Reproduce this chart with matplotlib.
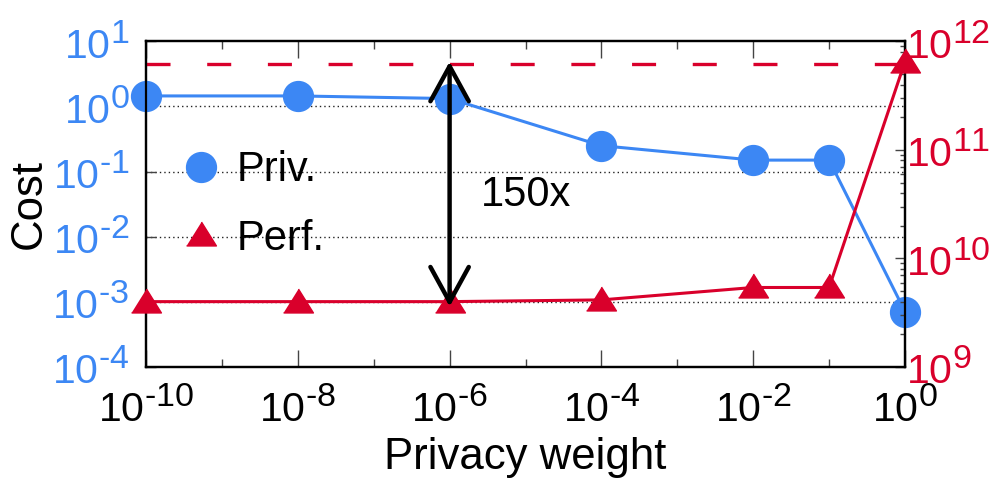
import matplotlib
matplotlib.use("Agg")
import matplotlib.pyplot as plt
import matplotlib._mathtext as _mt
from matplotlib.lines import Line2D
from matplotlib.ticker import FixedLocator, FuncFormatter, LogLocator, NullFormatter
import numpy as np

plt.rcParams['font.family'] = ['Liberation Sans', 'DejaVu Sans']
plt.rcParams['mathtext.fontset'] = 'custom'
plt.rcParams['mathtext.rm'] = 'Liberation Sans'
plt.rcParams['mathtext.it'] = 'Liberation Sans:italic'
plt.rcParams['mathtext.bf'] = 'Liberation Sans:bold'
plt.rcParams['lines.scale_dashes'] = False
_mt.SHRINK_FACTOR = 0.83  # larger exponents, like the reference

# ---- data ----
privacy_weight = [1e-10, 1e-8, 1e-6, 1e-4, 1e-2, 1e-1, 1e0]
priv_cost = [1.45, 1.45, 1.32, 0.25, 0.15, 0.15, 7.1e-4]
perf_cost = [4.0e9, 4.0e9, 4.0e9, 4.15e9, 5.4e9, 5.4e9, 6.5e11]
perf_max_line = 6.2e11
arrow_x = 1e-6
arrow_span = [3.6e9, 6.5e11]
arrow_label = "150x"
x_major = [1e-10, 1e-8, 1e-6, 1e-4, 1e-2, 1e0]
x_minor = [1e-9, 1e-7, 1e-5, 1e-3, 1e-1]
left_ticks = [1e-4, 1e-3, 1e-2, 1e-1, 1e0, 1e1]
right_ticks = [1e9, 1e10, 1e11, 1e12]
series_labels = ["Priv.", "Perf."]

BLUE = '#3c87f4'
RED = '#d9002b'
FS_TICK = 29.5
FS_LABEL = 31.5
FS_TEXT = 30

def fmt(v, pos):
    e = int(round(np.log10(v)))
    if e < 0:
        return r'$\mathregular{10^{\text{-}%d}}$' % (-e)
    return r'$\mathregular{10^{%d}}$' % e

tri = [(-1, -0.7), (1, -0.7), (0, 0.9)]

fig = plt.figure(figsize=(9.95, 4.82), dpi=100)
ax = fig.add_axes([146/995, 1-367/482, (905-146)/995, (367-41.3)/482])
ax2 = ax.twinx()

ax.set_xscale('log')
ax.set_yscale('log')
ax2.set_yscale('log')
ax.set_xlim(1e-10, 1e0)
ax.set_ylim(1e-4, 1e1)
ax2.set_ylim(1e9, 1e12)

ax.plot(privacy_weight, priv_cost, color=BLUE, lw=2.2, marker='o', ms=21.5,
        mec=BLUE, mfc=BLUE, clip_on=False, zorder=3)
ax2.plot(privacy_weight, perf_cost, color=RED, lw=2.2, marker=tri, ms=21.5,
         mec=RED, mfc=RED, clip_on=False, zorder=3)
ax2.axhline(perf_max_line, color=RED, lw=2.4, dashes=(17.3, 26.4), zorder=2)

# grid
for t in left_ticks[1:-1]:
    ax.axhline(t, color='#222222', lw=1.0, ls=(0, (1, 2.2)), zorder=1)

# ticks
ax.xaxis.set_major_locator(FixedLocator(x_major))
ax.xaxis.set_minor_locator(FixedLocator(x_minor))
ax.xaxis.set_major_formatter(FuncFormatter(fmt))
ax.xaxis.set_minor_formatter(NullFormatter())
ax.yaxis.set_major_locator(FixedLocator(left_ticks))
ax.yaxis.set_minor_locator(LogLocator(base=10, subs=[2, 5, 8]))
ax.yaxis.set_major_formatter(FuncFormatter(fmt))
ax.yaxis.set_minor_formatter(NullFormatter())
ax2.yaxis.set_major_locator(FixedLocator(right_ticks))
ax2.yaxis.set_minor_locator(LogLocator(base=10, subs=np.arange(2, 10)))
ax2.yaxis.set_major_formatter(FuncFormatter(fmt))
ax2.yaxis.set_minor_formatter(NullFormatter())

ax.tick_params(axis='x', which='major', direction='in', length=12, width=1,
               top=True, color='#444444', labelsize=FS_TICK, pad=15)
ax.tick_params(axis='x', which='minor', direction='in', length=6, width=1,
               top=True, color='#444444')
ax.tick_params(axis='y', which='major', direction='in', length=7, width=1,
               color='#444444', labelsize=FS_TICK, labelcolor=BLUE, pad=12)
ax.tick_params(axis='y', which='minor', direction='in', length=3.5, width=1,
               color='#444444')
ax2.tick_params(axis='y', which='major', direction='in', length=7, width=1,
                color='#444444', labelsize=FS_TICK, labelcolor=RED, pad=1.0)
ax2.tick_params(axis='y', which='minor', direction='in', length=3.5, width=1,
                color='#444444')

for a in (ax, ax2):
    for s in a.spines.values():
        s.set_linewidth(1.6)
        s.set_color('black')

ax.set_ylabel('Cost', fontsize=FS_LABEL, labelpad=2)
ax.set_xlabel('Privacy weight', fontsize=FS_LABEL, labelpad=5)

# arrow + label
ax2.annotate('', xy=(arrow_x, arrow_span[1]), xytext=(arrow_x, arrow_span[0]),
             arrowprops=dict(arrowstyle='<->,head_length=0.42,head_width=0.23',
                             mutation_scale=60, lw=3.2, color='black',
                             shrinkA=0, shrinkB=0), zorder=5)
ax2.text(0.5007, 0.528, arrow_label, transform=ax2.transAxes, fontsize=FS_TEXT,
         ha='center', va='center', zorder=5)

handles = [Line2D([], [], ls='none', marker='o', ms=21.5, color=BLUE),
           Line2D([], [], ls='none', marker=tri, ms=21.5, color=RED)]
leg = ax2.legend(handles, series_labels, loc='upper left',
                 bbox_to_anchor=(0.045, 0.665), frameon=False, fontsize=FS_TEXT,
                 handlelength=1.0, handletextpad=0.35, labelspacing=0.68,
                 borderaxespad=0, borderpad=0)

fig.savefig('out.png', dpi=100)
